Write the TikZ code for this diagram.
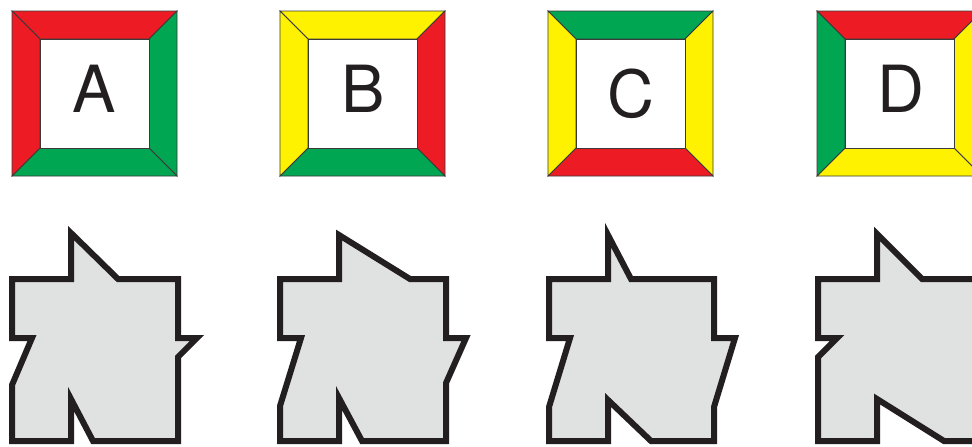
\documentclass[tikz,border=0pt]{standalone}
\usepackage{fontspec}
\setmainfont{TeX Gyre Heros}
\definecolor{cred}{HTML}{ED1C24}
\definecolor{cgreen}{HTML}{00A651}
\definecolor{cyellow}{HTML}{FFF200}
\definecolor{ink}{HTML}{231F20}
\definecolor{edgegray}{HTML}{3A3A3A}
\definecolor{shapegray}{HTML}{E0E1E1}
\tikzset{
  band/.style={draw=edgegray, line width=0.8pt, line join=miter},
  letter/.style={font=\fontsize{65}{65}\selectfont, text=ink, inner sep=0pt, anchor=base},
  piece/.style={fill=shapegray, draw=ink, line width=6pt, line join=miter},
}
% #1 x offset, #2 top, #3 right, #4 bottom, #5 left
\newcommand\framesq[5]{%
  \begin{scope}[xshift=#1pt]
    \filldraw[band, fill=#2] (0,11) -- (165,11) -- (137,39) -- (28,39) -- cycle;
    \filldraw[band, fill=#3] (165,11) -- (165,176) -- (137,148) -- (137,39) -- cycle;
    \filldraw[band, fill=#4] (165,176) -- (0,176) -- (28,148) -- (137,148) -- cycle;
    \filldraw[band, fill=#5] (0,176) -- (0,11) -- (28,39) -- (28,148) -- cycle;
    \draw[band, fill=white] (28,39) rectangle (137,148);
  \end{scope}}
\begin{document}
\begin{tikzpicture}[x=1pt, y=-1pt]
  \useasboundingbox (0,0) rectangle (972,447);
  \clip (0,0) rectangle (972,447);
  \fill[white] (0,0) rectangle (972,447);
  % framed squares
  \framesq{12}{cred}{cgreen}{cgreen}{cred}
  \framesq{280}{cyellow}{cred}{cgreen}{cyellow}
  \framesq{548}{cgreen}{cyellow}{cred}{cyellow}
  \framesq{817}{cred}{cyellow}{cyellow}{cgreen}
  \node[letter] (la) at (94.5,112) {A};
  \node[letter] (lb) at (363,112) {B};
  \node[letter] (lc) at (630.5,117) {C};
  \node[letter] (ld) at (900.5,112) {D};
  % gray pieces
  \draw[piece] (71,233) -- (118,279) -- (178,279) -- (178,338) -- (197,338) -- (178,357) -- (178,441) -- (93,441) -- (71,399) -- (71,441) -- (12,441) -- (12,385) -- (32,338) -- (12,338) -- (12,279) -- (71,279) -- cycle;
  \draw[piece] (339,235) -- (410,279) -- (446,279) -- (446,338) -- (466,338) -- (446,383) -- (446,441) -- (362,441) -- (339,398) -- (339,441) -- (280,441) -- (280,406) -- (301,338) -- (280,338) -- (280,279) -- (339,279) -- cycle;
  \draw[piece] (608,235) -- (631,279) -- (714,279) -- (714,338) -- (735,338) -- (714,407) -- (714,441) -- (651,441) -- (608,400) -- (608,441) -- (549,441) -- (549,407) -- (570,338) -- (549,338) -- (549,279) -- (608,279) -- cycle;
  \draw[piece] (877,234) -- (922,279) -- (1000,279) -- (1000,441) -- (944,441) -- (877,399) -- (877,441) -- (818,441) -- (818,357) -- (837,338) -- (818,338) -- (818,279) -- (877,279) -- cycle;
\end{tikzpicture}
\end{document}
